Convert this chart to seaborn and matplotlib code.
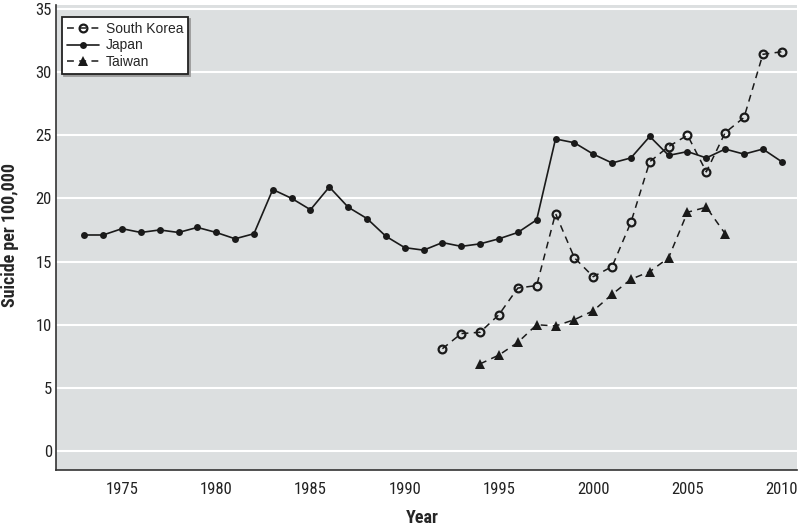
import pandas as pd
import numpy as np
import matplotlib
matplotlib.use('Agg')
import matplotlib.pyplot as plt
import seaborn as sns

# 연도별 자살률 (인구 10만명당)
japan_years = list(range(1973, 2011))
japan = [17.1, 17.1, 17.6, 17.3, 17.5, 17.3, 17.7, 17.3, 16.8, 17.2,
         20.7, 20.0, 19.1, 20.9, 19.3, 18.4, 17.0, 16.1, 15.9, 16.5,
         16.2, 16.4, 16.8, 17.3, 18.3, 24.7, 24.4, 23.5, 22.8, 23.2,
         24.9, 23.4, 23.7, 23.2, 23.9, 23.5, 23.9, 22.9]

korea_years = list(range(1992, 2011))
korea = [8.1, 9.3, 9.4, 10.8, 12.9, 13.1, 18.8, 15.3, 13.8, 14.6,
         18.1, 22.9, 24.1, 25.0, 22.1, 25.2, 26.4, 31.4, 31.6]

taiwan_years = list(range(1994, 2008))
taiwan = [6.9, 7.6, 8.6, 10.0, 9.9, 10.4, 11.1, 12.4, 13.6, 14.2,
          15.3, 18.9, 19.3, 17.2]

x_ticks = [1975, 1980, 1985, 1990, 1995, 2000, 2005, 2010]
y_ticks = [0, 5, 10, 15, 20, 25, 30, 35]

sns.set_style('white')
plt.rcParams['font.family'] = ['Roboto Condensed', 'DejaVu Sans']

fig = plt.figure(figsize=(8, 5.29), dpi=100)
ax = fig.add_axes([0.07, 0.1115, 0.926, 0.879])
ax.set_facecolor('#dcdfe0')

dash = (4.5, 3.5)
sns.lineplot(x=korea_years, y=korea, ax=ax, color='#1a1a1a', lw=1.1,
             marker='o', markersize=5.6, markerfacecolor='none',
             markeredgecolor='#1a1a1a', markeredgewidth=1.6,
             dashes=dash, label='South Korea')
sns.lineplot(x=japan_years, y=japan, ax=ax, color='#1a1a1a', lw=1.2,
             marker='o', markersize=5, markeredgewidth=0, label='Japan')
sns.lineplot(x=taiwan_years, y=taiwan, ax=ax, color='#1a1a1a', lw=1.1,
             marker='^', markersize=6.8, markeredgewidth=0,
             dashes=dash, label='Taiwan')

ax.set_xlim(1971.5, 2010.8)
ax.set_ylim(-1.5, 35.3)
ax.set_xticks(x_ticks)
ax.set_yticks(y_ticks)
ax.yaxis.grid(True, color='white', lw=1.5)
ax.xaxis.grid(False)
ax.set_axisbelow(True)

for side in ['top', 'right']:
    ax.spines[side].set_visible(False)
for side in ['left', 'bottom']:
    ax.spines[side].set_color('#333333')
    ax.spines[side].set_linewidth(1.2)

ax.tick_params(axis='x', direction='out', length=5, width=0.8, color='#777777',
               labelsize=12, pad=3.5, labelcolor='#222222')
ax.tick_params(axis='y', length=0, labelsize=12, pad=3, labelcolor='#222222')

ax.set_xlabel('Year', fontsize=13, fontweight='bold')
ax.set_ylabel('Suicide per 100,000', fontsize=13, fontweight='bold')
ax.xaxis.set_label_coords(0.494, -0.083)
ax.yaxis.set_label_coords(-0.05, 0.505)

leg = ax.legend(loc='upper left', bbox_to_anchor=(0.008, 0.974), borderaxespad=0,
                frameon=True, fancybox=False,
                shadow={'color': '#9a9a9a', 'alpha': 1, 'ox': 1.5, 'oy': -1.5},
                prop={'family': 'Liberation Sans', 'size': 10},
                handlelength=2.3, borderpad=0.35, labelspacing=0.18,
                handletextpad=0.5)
leg.get_frame().set_edgecolor('#222222')
leg.get_frame().set_linewidth(1.3)
leg.get_frame().set_facecolor('white')
leg.get_frame().set_alpha(1)

fig.savefig('out.png', dpi=100)
